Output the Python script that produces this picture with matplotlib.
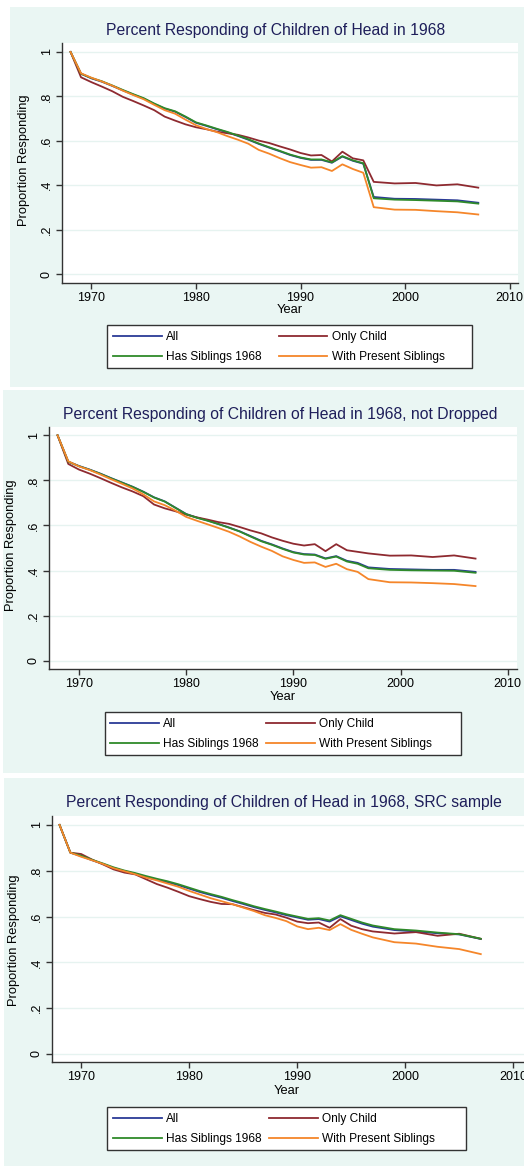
import matplotlib
matplotlib.use("Agg")
import matplotlib.pyplot as plt
from matplotlib.patches import Rectangle

years = [1968, 1969, 1970, 1971, 1972, 1973, 1974, 1975, 1976, 1977,
         1978, 1979, 1980, 1981, 1982, 1983, 1984, 1985, 1986, 1987,
         1988, 1989, 1990, 1991, 1992, 1993, 1994, 1995, 1996, 1997,
         1999, 2001, 2003, 2005, 2007]

series_labels = ["All", "Only Child", "Has Siblings 1968", "With Present Siblings"]
titles = ["Percent Responding of Children of Head in 1968",
          "Percent Responding of Children of Head in 1968, not Dropped",
          "Percent Responding of Children of Head in 1968, SRC sample"]
ytick_vals = [0, 0.2, 0.4, 0.6, 0.8, 1.0]
ytick_labels = ["0", ".2", ".4", ".6", ".8", "1"]
xtick_vals = [1970, 1980, 1990, 2000, 2010]

# Panel 1
p1_all = [1.0, .902, .881, .866, .847, .827, .808, .790, .766, .745, .731, .707, .681, .667, .652, .638, .622, .605, .586, .569,
          .553, .536, .523, .514, .514, .501, .529, .510, .497, .347, .339, .338, .335, .332, .321]
p1_only = [1.0, .886, .864, .844, .823, .798, .779, .759, .738, .709, .691, .674, .661, .652, .641, .634, .627, .615, .601, .590,
           .575, .561, .545, .534, .536, .507, .551, .521, .512, .415, .408, .410, .399, .404, .389]
p1_sib = [1.0, .902, .883, .868, .849, .829, .810, .792, .768, .747, .733, .709, .683, .669, .654, .640, .624, .607, .588, .571,
          .555, .538, .525, .516, .516, .503, .531, .512, .499, .341, .335, .333, .330, .327, .317]
p1_present = [1.0, .904, .884, .867, .848, .826, .806, .787, .762, .738, .722, .695, .670, .653, .639, .621, .605, .587, .559, .542,
              .522, .504, .491, .479, .481, .464, .494, .473, .456, .301, .290, .289, .283, .278, .268]

# Panel 2
p2_all = [1.0, .883, .864, .848, .830, .810, .791, .772, .750, .725, .707, .679, .651, .635, .622, .607, .591, .574, .553, .532,
          .516, .498, .482, .473, .471, .454, .464, .443, .434, .414, .407, .405, .403, .403, .394]
p2_only = [1.0, .873, .848, .830, .810, .789, .769, .751, .730, .693, .676, .663, .648, .636, .626, .615, .607, .593, .578, .565,
           .547, .532, .519, .511, .517, .486, .517, .490, .483, .476, .466, .467, .460, .467, .453]
p2_sib = [1.0, .883, .863, .847, .829, .809, .790, .771, .749, .724, .706, .678, .650, .634, .621, .606, .590, .573, .551, .530,
          .514, .496, .480, .471, .469, .452, .462, .440, .430, .410, .403, .401, .400, .399, .390]
p2_present = [1.0, .885, .862, .846, .826, .805, .785, .764, .738, .707, .690, .666, .638, .621, .605, .589, .572, .551, .527, .506,
              .487, .463, .447, .434, .436, .416, .430, .406, .394, .362, .348, .347, .344, .340, .331]

# Panel 3
p3_all = [1.0, .879, .864, .846, .830, .812, .798, .787, .773, .761, .750, .737, .722, .707, .694, .682, .668, .655, .641, .629,
          .618, .606, .596, .586, .589, .578, .601, .585, .569, .556, .541, .535, .527, .522, .502]
p3_only = [1.0, .879, .873, .849, .828, .806, .792, .784, .763, .742, .726, .708, .689, .676, .664, .655, .654, .641, .628, .616,
           .609, .595, .578, .571, .574, .551, .589, .560, .545, .535, .526, .532, .516, .525, .503]
p3_sib = [1.0, .879, .866, .848, .832, .815, .801, .790, .777, .765, .754, .741, .726, .711, .698, .686, .672, .659, .645, .633,
          .622, .610, .600, .590, .593, .583, .606, .590, .574, .561, .545, .539, .530, .523, .503]
p3_present = [1.0, .879, .861, .846, .830, .811, .798, .785, .770, .758, .744, .730, .712, .696, .680, .667, .654, .639, .624, .606,
              .594, .580, .557, .545, .551, .541, .567, .542, .525, .509, .488, .482, .468, .458, .436]

panels = [
    [p1_all, p1_only, p1_sib, p1_present],
    [p2_all, p2_only, p2_sib, p2_present],
    [p3_all, p3_only, p3_sib, p3_present],
]

colors = ["#2b3a96", "#8e2a30", "#2f8a2a", "#f5862a"]
bg = "#eaf6f3"
grid_c = "#e6f3f0"
title_c = "#1e1e5a"

plt.rcParams["font.family"] = ["Liberation Sans", "DejaVu Sans"]

W, H = 524, 1166
fig = plt.figure(figsize=(W / 100, H / 100), dpi=100)

def fx(px):
    return px / W

def fy(py):
    return 1 - py / H

# background regions (x0, y0, x1, y1) in px
bgs = [(10, 7, 524, 387), (3, 390, 524, 773), (4, 778, 524, 1166)]
for (x0, y0, x1, y1) in bgs:
    fig.patches.append(Rectangle((fx(x0), fy(y1)), fx(x1 - x0), (y1 - y0) / H,
                                 transform=fig.transFigure, facecolor=bg, edgecolor="none", zorder=-10))

# axes boxes (left, top, right, bottom) px and limits
axboxes = [(62, 43, 518, 283), (49, 427, 517, 669), (52, 816, 524, 1062)]
xlims = [(1967.18, 2010.8), (1967.2, 2010.87), (1967.3, 2011.0)]
ylims = [(-0.0405, 1.0405), (-0.037, 1.037), (-0.035, 1.039)]
title_pos = [(276, 30), (280, 414), (284, 803)]
year_pos = [(290, 310), (283, 697), (287, 1091)]
ylab_pos = [(24, 160), (11, 545), (14, 940)]
leg_box = [(107, 325, 472, 368), (105, 712, 461, 755), (107, 1107, 466, 1150)]
leg_anchor = [(113, 331), (110, 718), (113, 1113)]
colspace = [1.4, 0.6, 0.6]
leg_order = [0, 2, 1, 3]

for i, data in enumerate(panels):
    l, t, r, b = axboxes[i]
    ax = fig.add_axes([fx(l), fy(b), fx(r - l), (b - t) / H])
    ax.set_facecolor("white")
    handles = []
    for s, vals in enumerate(data):
        h, = ax.plot(years, vals, color=colors[s], lw=1.3, label=series_labels[s], zorder=3 + s)
        handles.append(h)
    ax.set_xlim(*xlims[i])
    ax.set_ylim(*ylims[i])
    ax.set_xticks(xtick_vals)
    ax.set_yticks(ytick_vals)
    ax.set_yticklabels(ytick_labels, rotation=90, va="center")
    ax.grid(axis="y", color=grid_c, lw=1.0, zorder=1)
    ax.set_axisbelow(True)
    for sp in ["top", "right"]:
        ax.spines[sp].set_visible(False)
    for sp in ["left", "bottom"]:
        ax.spines[sp].set_color("#333333")
        ax.spines[sp].set_linewidth(1.0)
    ax.tick_params(axis="both", direction="out", length=4, width=1.0, color="#333333",
                   labelsize=9, labelcolor="black", pad=2.5)

    fig.text(fx(title_pos[i][0]), fy(title_pos[i][1]), titles[i], ha="center", va="center",
             fontsize=11.3, color=title_c)
    fig.text(fx(year_pos[i][0]), fy(year_pos[i][1]), "Year", ha="center", va="center",
             fontsize=9.3, color="black")
    fig.text(fx(ylab_pos[i][0]), fy(ylab_pos[i][1]), "Proportion Responding", ha="center", va="center",
             rotation=90, fontsize=9.3, color="black")

    x0, y0, x1, y1 = leg_box[i]
    fig.patches.append(Rectangle((fx(x0), fy(y1)), fx(x1 - x0), (y1 - y0) / H,
                                 transform=fig.transFigure, facecolor="white", edgecolor="#333333",
                                 lw=1.0, zorder=-5))
    leg = ax.legend([handles[k] for k in leg_order], [series_labels[k] for k in leg_order],
                    loc="upper left", bbox_to_anchor=(fx(leg_anchor[i][0]), fy(leg_anchor[i][1])),
                    bbox_transform=fig.transFigure, ncol=2, frameon=False, fontsize=8.6,
                    handlelength=4.1, handletextpad=0.35, columnspacing=colspace[i],
                    labelspacing=0.68, borderpad=0, borderaxespad=0)
    for h in leg.get_lines():
        h.set_linewidth(1.3)

fig.savefig("out.png", dpi=100)
